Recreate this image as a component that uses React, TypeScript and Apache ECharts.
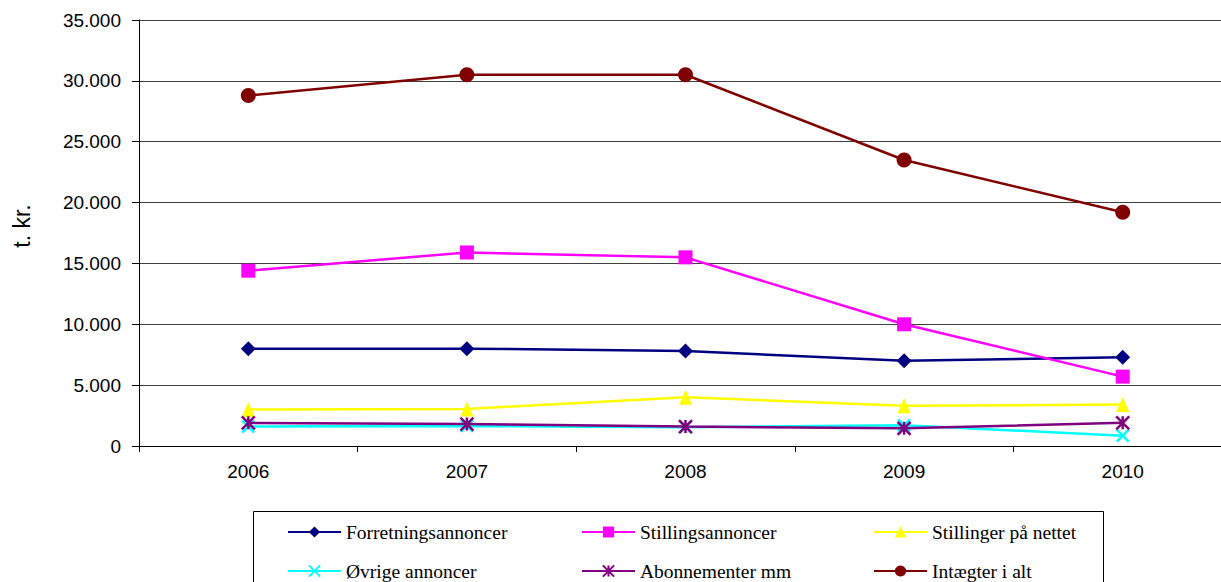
import React, { useEffect, useRef } from "react";
import * as echarts from "echarts";

const years = ["2006", "2007", "2008", "2009", "2010"];
const forretning = [8000, 8000, 7800, 7000, 7300];
const stillingsannoncer = [14400, 15900, 15500, 10000, 5700];
const stillingerNettet = [3000, 3050, 4000, 3300, 3400];
const ovrige = [1600, 1650, 1550, 1700, 850];
const abonnementer = [1900, 1800, 1600, 1450, 1900];
const intaegter = [28800, 30500, 30500, 23500, 19200];

const seriesNames = [
  "Forretningsannoncer",
  "Stillingsannoncer",
  "Stillinger på nettet",
  "Øvrige annoncer",
  "Abonnementer mm",
  "Intægter i alt",
];
const seriesData = [forretning, stillingsannoncer, stillingerNettet, ovrige, abonnementer, intaegter];
const seriesColors = ["#000080", "#FF00FF", "#FFFF00", "#00FFFF", "#800080", "#800000"];
const seriesSymbols = [
  "diamond",
  "rect",
  "triangle",
  "path://M0,0L10,10M10,0L0,10",
  "path://M0,0L10,10M10,0L0,10M5,0L5,10",
  "circle",
];
const symbolSizes: any[] = [15, 14, [13, 15], 12, 13, 15];

const fmt = (v: number) => {
  const s = String(Math.round(v));
  return s.replace(/\B(?=(\d{3})+(?!\d))/g, ".");
};

export default function App() {
  const ref = useRef<HTMLDivElement>(null);
  useEffect(() => {
    if (!ref.current) return;
    const chart = echarts.init(ref.current, undefined, { renderer: "svg" });
    const legendPos = [
      [287, 522],
      [581, 522],
      [873, 522],
      [287, 561],
      [581, 561],
      [873, 561],
    ];
    const isStroke = (i: number) => i === 3 || i === 4;
    chart.setOption({
      animation: false,
      backgroundColor: "#ffffff",
      grid: {
        left: 139,
        top: 20,
        bottom: 136,
        right: -11,
        containLabel: false,
        outerBoundsMode: "none",
      },
      xAxis: {
        type: "category",
        data: years,
        boundaryGap: true,
        axisLine: { lineStyle: { color: "#000", width: 1 } },
        axisTick: { show: true, length: 6, lineStyle: { color: "#000" } },
        axisLabel: {
          margin: 16,
          color: "#000",
          fontFamily: "Arial, 'Liberation Sans', sans-serif",
          fontSize: 19,
        },
      },
      yAxis: {
        type: "value",
        min: 0,
        max: 35000,
        interval: 5000,
        axisLine: { show: true, lineStyle: { color: "#000", width: 1 } },
        axisTick: { show: true, length: 7, lineStyle: { color: "#000" } },
        axisLabel: {
          margin: 18,
          color: "#000",
          fontFamily: "Arial, 'Liberation Sans', sans-serif",
          fontSize: 19,
          formatter: (v: number) => fmt(v),
        },
        splitLine: { show: true, lineStyle: { color: "#404040", width: 1 } },
      },
      legend: seriesNames.map((n, i) => ({
        data: [n],
        left: legendPos[i][0],
        top: legendPos[i][1],
        padding: 0,
        itemWidth: 53,
        itemHeight: 14,
        selectedMode: false,
        textStyle: {
          color: "#000",
          fontFamily: "'Liberation Serif', 'Times New Roman', serif",
          fontSize: 19.5,
          lineHeight: 20,
        },
      })),
      graphic: [
        {
          type: "rect",
          shape: { x: 253.5, y: 511.5, width: 850, height: 90 },
          style: { fill: "none", stroke: "#000", lineWidth: 1 },
          silent: true,
        },
        {
          type: "text",
          x: 22,
          y: 226,
          rotation: Math.PI / 2,
          style: {
            text: "t. kr.",
            fill: "#000",
            font: "23px Arial, 'Liberation Sans', sans-serif",
            align: "center",
            verticalAlign: "middle",
          },
          silent: true,
        },
      ],
      series: seriesNames.map((n, i) => ({
        name: n,
        type: "line",
        data: seriesData[i],
        symbol: seriesSymbols[i],
        symbolSize: symbolSizes[i],
        showAllSymbol: true,
        lineStyle: { color: seriesColors[i], width: 2.5 },
        itemStyle: {
          color: seriesColors[i],
          borderColor: seriesColors[i],
          borderWidth: isStroke(i) ? 2.5 : 0,
          opacity: 1,
        },
        z: 2 + i,
      })),
    });
    return () => chart.dispose();
  }, []);
  return <div ref={ref} style={{ width: 1221, height: 582, position: "absolute", left: 0, top: 0 }} />;
}
